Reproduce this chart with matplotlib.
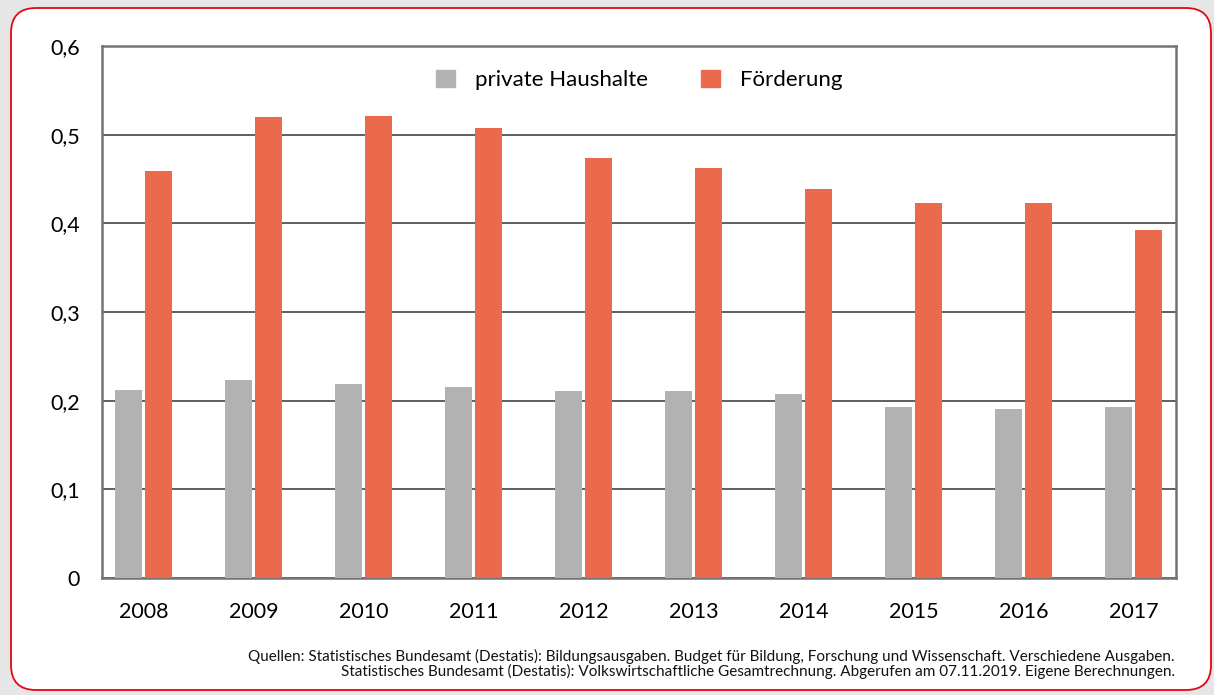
import matplotlib
matplotlib.use('Agg')
import matplotlib.pyplot as plt
from matplotlib.patches import FancyBboxPatch, Patch
from matplotlib.ticker import FuncFormatter

years = ['2008', '2009', '2010', '2011', '2012', '2013', '2014', '2015', '2016', '2017']
private = [0.212, 0.223, 0.219, 0.215, 0.211, 0.211, 0.208, 0.193, 0.191, 0.193]
foerderung = [0.459, 0.520, 0.521, 0.508, 0.474, 0.462, 0.439, 0.423, 0.423, 0.393]
labels = ['private Haushalte', 'Förderung']
source = ('Quellen: Statistisches Bundesamt (Destatis): Bildungsausgaben. Budget für Bildung, Forschung und Wissenschaft. Verschiedene Ausgaben.\n'
          'Statistisches Bundesamt (Destatis): Volkswirtschaftliche Gesamtrechnung. Abgerufen am 07.11.2019. Eigene Berechnungen.')

GRAY = '#b2b2b2'
ORANGE = '#ec6a4c'
plt.rcParams['font.family'] = ['Lato', 'DejaVu Sans']

fig = plt.figure(figsize=(12.14, 6.95), dpi=100)
fig.patch.set_facecolor('#e6e6e6')
box = FancyBboxPatch((0.11, 0.05), 12.0, 6.82, boxstyle='round,pad=0,rounding_size=0.25',
                     transform=fig.dpi_scale_trans, facecolor='white', edgecolor='#e30613',
                     linewidth=1.3, zorder=-5)
fig.patches.append(box)

ax = fig.add_axes([102/1214, 1-578/695, (1176-102)/1214, (578-46)/695], zorder=2)
ax.set_facecolor('white')
x = list(range(len(years)))
w = 0.245; off = 0.136
ax.bar([i-off for i in x], private, width=w, color=GRAY, zorder=3, label=labels[0])
ax.bar([i+off for i in x], foerderung, width=w, color=ORANGE, zorder=3, label=labels[1])
ax.set_xlim(-0.377, 9.386)
ax.set_ylim(0, 0.6)
ax.set_yticks([0, 0.1, 0.2, 0.3, 0.4, 0.5, 0.6])
ax.yaxis.set_major_formatter(FuncFormatter(lambda v, p: '0' if v == 0 else ('%.1f' % v).replace('.', ',')))
ax.set_xticks(x)
ax.set_xticklabels(years)
ax.tick_params(axis='y', length=0, pad=16, labelsize=15.5)
ax.tick_params(axis='x', length=0, pad=17, labelsize=15.5)
ax.grid(axis='y', color='#333333', linewidth=1.1, zorder=1)
ax.set_axisbelow(True)
for s in ax.spines.values():
    s.set_color('#747474'); s.set_linewidth(1.8)

handles = [Patch(color=GRAY), Patch(color=ORANGE)]
ax.legend(handles, labels, loc='upper center', bbox_to_anchor=(0.5, 0.993), ncol=2, frameon=False,
          fontsize=16, handlelength=0.85, handleheight=0.85, handletextpad=0.9, columnspacing=2.4)

fig.text(1175/1214, 1-664/695, source, ha='right', va='center', fontsize=11, linespacing=1.0, color='#111111')
fig.savefig('out.png', dpi=100, facecolor=fig.get_facecolor())
